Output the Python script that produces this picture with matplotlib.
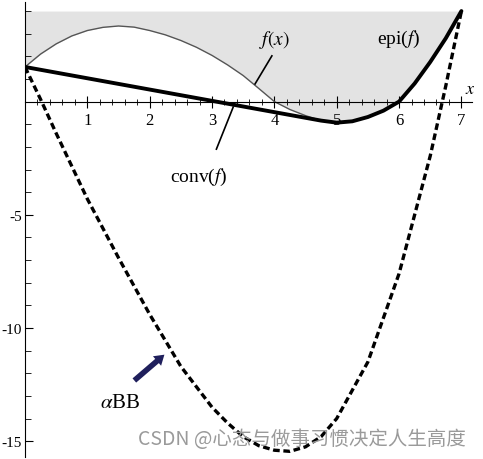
import matplotlib
matplotlib.use("Agg")
import matplotlib.pyplot as plt
from matplotlib.ticker import MultipleLocator, FixedLocator

# f(x) at quarter steps
f_x = [0, 0.25, 0.5, 0.75, 1, 1.25, 1.5, 1.75, 2, 2.25, 2.5, 2.75, 3, 3.25, 3.5,
       3.75, 4, 4.25, 4.5, 4.75, 5, 5.25, 5.5, 5.75, 6, 6.25, 6.5, 6.75, 7]
f_y = [1.53, 2.1, 2.55, 2.9, 3.14, 3.28, 3.34, 3.29, 3.14, 2.95, 2.7, 2.4, 2.04, 1.62, 1.15,
       0.58, 0.0, -0.35, -0.62, -0.84, -0.93, -0.87, -0.68, -0.4, 0.0, 0.8, 1.75, 2.8, 4.0]

# convex envelope: straight segment then follows f
conv_x = [0, 4.75, 5, 5.25, 5.5, 5.75, 6, 6.25, 6.5, 6.75, 7]
conv_y = [1.53, -0.84, -0.93, -0.87, -0.68, -0.4, 0.0, 0.8, 1.75, 2.8, 4.0]

# alphaBB underestimator
abb_x = [0, 0.25, 0.5, 1, 1.5, 2, 2.5, 3, 3.25, 3.5, 3.75, 4, 4.25, 4.5, 4.75, 5, 5.5, 6, 6.5, 6.75, 7]
abb_y = [1.53, 0.1, -1.4, -4.3, -6.9, -9.4, -11.7, -13.5, -14.2, -14.8, -15.2, -15.4, -15.45,
         -15.25, -14.8, -14.0, -11.5, -7.6, -2.4, 0.7, 4.0]

epi_top = 4.0

plt.rcParams['font.family'] = ['Liberation Serif', 'DejaVu Serif']
plt.rcParams['mathtext.fontset'] = 'stix'

fig = plt.figure(figsize=(4.83, 4.60), dpi=100)
ax = fig.add_axes([25 / 483, 1 - 458 / 460, 447 / 483, 455 / 460])
ax.set_xlim(0, 7.17)
ax.set_ylim(-15.7, 4.4)

ax.fill_between(f_x, f_y, epi_top, color='#e3e3e3', lw=0)
ax.plot(f_x, f_y, color='#555555', lw=1.0)
ax.plot(conv_x, conv_y, color='black', lw=2.8, solid_capstyle='round')
ax.plot(abb_x, abb_y, color='black', lw=2.4, ls=(0, (2.0, 1.1)))

ax.spines['left'].set_position(('data', 0))
ax.spines['bottom'].set_position(('data', 0))
ax.spines['top'].set_visible(False)
ax.spines['right'].set_visible(False)

ax.xaxis.set_major_locator(FixedLocator([1, 2, 3, 4, 5, 6, 7]))
ax.xaxis.set_minor_locator(MultipleLocator(0.2))
ax.yaxis.set_major_locator(FixedLocator([-15, -10, -5]))
ax.yaxis.set_minor_locator(MultipleLocator(1))
ax.set_yticklabels(['-15', '-10', '-5'])
ax.tick_params(axis='x', which='both', direction='inout', labelsize=12)
ax.tick_params(axis='x', which='major', length=8)
ax.tick_params(axis='x', which='minor', length=4)
ax.tick_params(axis='y', which='both', direction='in', labelsize=11, pad=2)
ax.tick_params(axis='y', which='major', length=6)
ax.tick_params(axis='y', which='minor', length=4)

ax.text(7.14, 0.56, '$x$', fontsize=13, ha='center', va='center')
ax.text(4.0, 2.77, '$f(x)$', fontsize=14, ha='center', va='center')
ax.plot([3.96, 3.69], [2.02, 0.78], color='black', lw=1.2)
ax.text(6.0, 2.77, 'epi($f$)', fontsize=14, ha='center', va='center')
ax.text(2.78, -3.3, 'conv($f$)', fontsize=14, ha='center', va='center')
ax.plot([3.07, 3.34], [-2.1, -0.24], color='black', lw=1.2)
ax.text(1.52, -13.3, r'$\alpha$BB', fontsize=15, ha='center', va='center')
ax.annotate('', xy=(2.27, -11.1), xytext=(1.72, -12.4),
            arrowprops=dict(arrowstyle='simple,head_width=0.9,head_length=0.7,tail_width=0.4',
                            color='#1f1f5c', lw=0))

fig.text(302 / 483, 1 - 440 / 460, 'CSDN @心态与做事习惯决定人生高度',
         family=['Noto Sans CJK SC', 'DejaVu Sans'], fontsize=14, color='#9a9a9a',
         ha='center', va='center')

fig.savefig('out.png', dpi=100)
